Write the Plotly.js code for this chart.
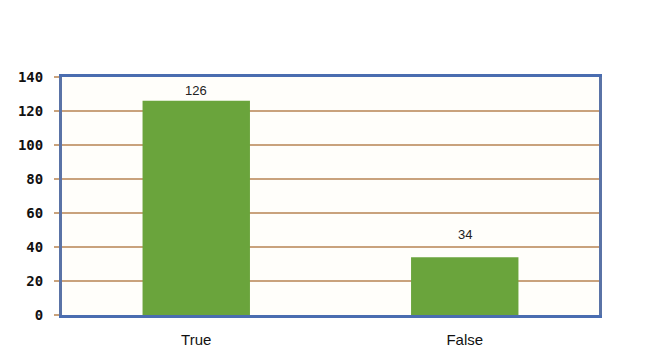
<!DOCTYPE html>
<html>
<head>
<meta charset="utf-8">
<script src="https://cdn.plot.ly/plotly-3.0.1.min.js"></script>
<style>html,body{margin:0;padding:0;background:#fff;}#chart{width:651px;height:353px;}</style>
</head>
<body>
<div id="chart"></div>
<script>
const categories = ["True", "False"];
const counts = [126, 34];
const yTicks = [0, 20, 40, 60, 80, 100, 120, 140];

const trace = {
  type: "bar",
  x: categories,
  y: counts,
  width: 0.4,
  marker: {color: "#6aa43c", line: {width: 0}},
  hoverinfo: "none"
};

const labelShift = [0, 12];
const annotations = categories.map((c, i) => ({
  x: c, y: counts[i], xref: "x", yref: "y",
  text: String(counts[i]), showarrow: false,
  yanchor: "bottom", yshift: 1 + labelShift[i],
  font: {family: "Liberation Sans, Arial, sans-serif", size: 13, color: "#222"}
}));

const layout = {
  width: 651, height: 353,
  margin: {l: 62, r: 52, t: 77, b: 38},
  paper_bgcolor: "#ffffff",
  plot_bgcolor: "#fffefa",
  showlegend: false,
  bargap: 0.6,
  xaxis: {
    type: "category",
    range: [-0.5, 1.5],
    showgrid: false,
    showline: true, linecolor: "#4a6db0", linewidth: 3, mirror: true,
    ticks: "", ticklabelstandoff: 9,
    tickfont: {family: "Liberation Sans, Arial, sans-serif", size: 15, color: "#111"},
    fixedrange: true
  },
  yaxis: {
    range: [0, 140],
    tickvals: yTicks,
    ticktext: yTicks.map(String),
    showgrid: true, gridcolor: "#c9a27c", gridwidth: 2,
    zeroline: false,
    showline: true, linecolor: "#5a73a6", linewidth: 3, mirror: true,
    ticks: "outside", ticklen: 5, tickwidth: 2, tickcolor: "#c9a27c",
    ticklabelstandoff: 8,
    tickfont: {family: "DejaVu Sans Mono, monospace", size: 14, color: "#111", weight: "bold"},
    fixedrange: true
  },
  annotations: annotations
};

Plotly.newPlot("chart", [trace], layout, {displayModeBar: false, staticPlot: true});
</script>
</body>
</html>
